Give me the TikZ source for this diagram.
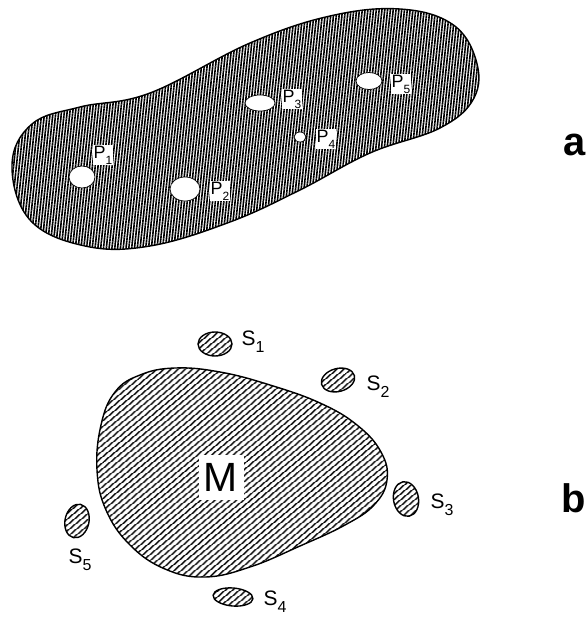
\documentclass[tikz,border=0pt]{standalone}
\usepackage{fontspec}
\setmainfont{Liberation Sans}
\usetikzlibrary{patterns.meta}
\newcommand\lowsub[2]{\raisebox{-0.34em}{\fontsize{#2}{#2}\selectfont #1}}
\begin{document}
\begin{tikzpicture}[x=1bp,y=-1bp,
  hatchA/.style={pattern={Lines[angle=84,distance=2.8bp,line width=1.6bp]},pattern color=black},
  hatchB/.style={pattern={Lines[angle=40,distance=3.9bp,line width=1.5bp]},pattern color=black},
  outline/.style={draw=black,line width=1.4bp},
  hole/.style={draw=black,line width=0.7bp,fill=white},
  plab/.style={fill=white,inner sep=0.8bp,font=\fontsize{18}{18}\selectfont},
  slab/.style={inner sep=0pt,font=\fontsize{21}{21}\selectfont},
  mlab/.style={fill=white,inner sep=0pt,minimum size=45bp,font=\fontsize{41}{41}\selectfont},
  tag/.style={font=\fontsize{40}{40}\selectfont\bfseries}]
\useasboundingbox (0,0) rectangle (588,617);
% part a
\draw[outline,hatchA] plot[smooth cycle,tension=0.65] coordinates {(12,165) (32,124) (80,107) (150,93) (250,43) (330,16) (400,9) (452,24) (476,60) (474,98) (440,128) (370,153) (300,190) (230,222) (150,246) (85,246) (30,220)};
\draw[hole] (82,177) ellipse [x radius=13,y radius=11];
\draw[hole] (185,189) ellipse [x radius=15,y radius=12];
\draw[hole] (260,103) ellipse [x radius=15,y radius=8];
\draw[hole] (300,137) ellipse [x radius=6,y radius=5];
\draw[hole] (369,81) ellipse [x radius=13,y radius=8.5];
\node[plab] (p1) at (103,155) {P\lowsub{1}{12}};
\node[plab] (p2) at (220,191) {P\lowsub{2}{12}};
\node[plab] (p3) at (292,99) {P\lowsub{3}{12}};
\node[plab] (p4) at (326,139) {P\lowsub{4}{12}};
\node[plab] (p5) at (401,84) {P\lowsub{5}{12}};
\node[tag] (a) at (575,145) {a};
% part b
\draw[outline,hatchB] plot[smooth cycle,tension=0.7] coordinates {(140,375) (175,368) (220,372) (270,385) (320,403) (357,425) (381,452) (387,480) (374,505) (345,525) (300,546) (250,567) (205,577) (165,569) (130,545) (106,510) (97,470) (101,425) (115,392)};
\node[mlab] (m) at (221,477) {M};
\draw[outline,hatchB] (215,344) ellipse [x radius=17,y radius=12];
\draw[outline,hatchB,rotate around={15:(338,380)}] (338,380) ellipse [x radius=17,y radius=11.5];
\draw[outline,hatchB,rotate around={10:(406,499)}] (406,499) ellipse [x radius=12.5,y radius=17.5];
\draw[outline,hatchB,rotate around={-5:(233,597)}] (233,597) ellipse [x radius=20,y radius=9];
\draw[outline,hatchB,rotate around={-12:(77,521)}] (77,521) ellipse [x radius=12,y radius=17];
\node[slab] (s1) at (253,342) {S\lowsub{1}{16}};
\node[slab] (s2) at (378,387) {S\lowsub{2}{16}};
\node[slab] (s3) at (442,505) {S\lowsub{3}{16}};
\node[slab] (s4) at (275,602) {S\lowsub{4}{16}};
\node[slab] (s5) at (80,560) {S\lowsub{5}{16}};
\node[tag] (b) at (574,498) {b};
\end{tikzpicture}
\end{document}
